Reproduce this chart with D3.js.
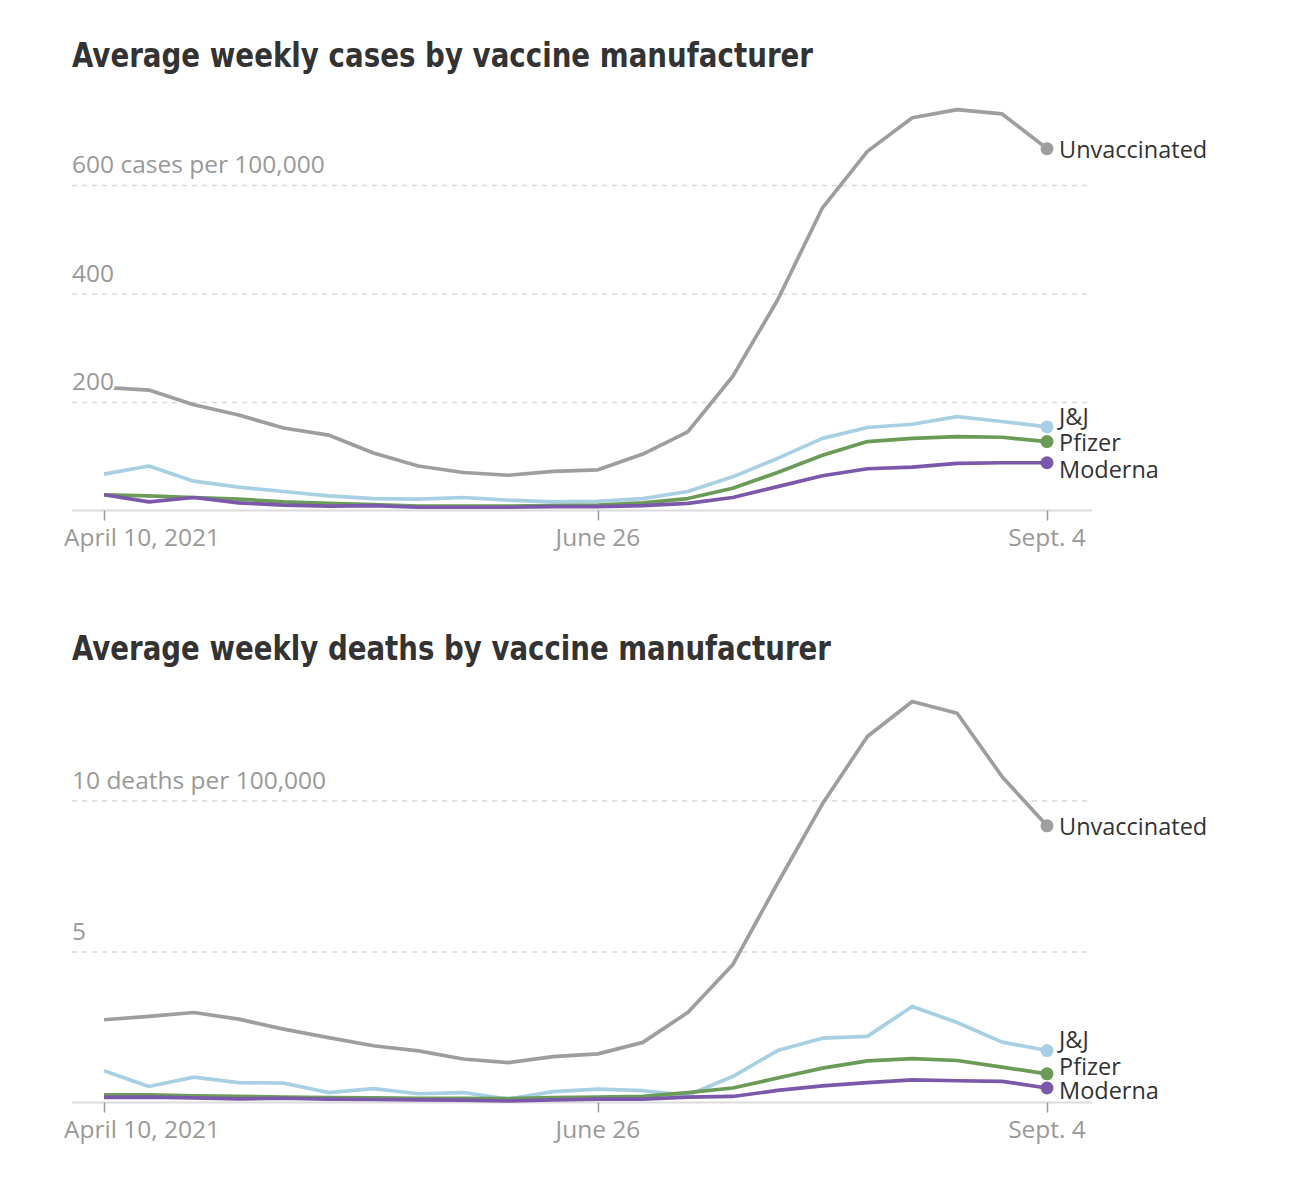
<!DOCTYPE html>
<html>
<head>
<meta charset="utf-8">
<script src="https://cdn.jsdelivr.net/npm/d3@7"></script>
<style>
  html, body { margin: 0; padding: 0; background: #fff; }
  svg { display: block; }
</style>
</head>
<body>
<svg id="chart" width="1303" height="1188"></svg>
<script>
// ---------- DATA ----------
const startDate = "2021-04-10";
const weeks = 22;
const seriesNames = ["Unvaccinated", "J&J", "Pfizer", "Moderna"];
const seriesColors = ["#9e9e9e", "#a8d0e4", "#6a9b57", "#7c58aa"];

const casesUnvaccinated = [227, 222, 195, 176, 152, 139, 106, 82, 70, 65, 72, 75, 104, 145, 247, 388, 558, 662, 724, 739, 731, 667];
const casesJJ          = [67, 82, 54, 43, 35, 27, 22, 21, 24, 19, 16, 17, 22, 35, 62, 96, 133, 153, 159, 173, 164, 154];
const casesPfizer      = [29, 27, 24, 21, 16, 13, 11, 8, 8, 8, 9, 10, 14, 22, 41, 70, 102, 127, 133, 136, 135, 127];
const casesModerna     = [29, 16, 24, 14, 10, 8, 9, 6, 6, 6, 7, 7, 9, 13, 24, 44, 64, 77, 80, 87, 88, 88];

const deathsUnvaccinated = [2.74, 2.85, 2.98, 2.76, 2.43, 2.15, 1.88, 1.71, 1.44, 1.32, 1.52, 1.61, 1.99, 2.98, 4.56, 7.26, 9.89, 12.12, 13.28, 12.89, 10.79, 9.16];
const deathsJJ          = [1.05, 0.53, 0.84, 0.66, 0.64, 0.33, 0.46, 0.29, 0.33, 0.11, 0.36, 0.44, 0.39, 0.24, 0.86, 1.72, 2.13, 2.19, 3.18, 2.65, 2.0, 1.72];
const deathsPfizer      = [0.25, 0.25, 0.22, 0.2, 0.18, 0.16, 0.15, 0.14, 0.14, 0.13, 0.16, 0.18, 0.2, 0.33, 0.48, 0.81, 1.14, 1.38, 1.45, 1.39, 1.17, 0.95];
const deathsModerna     = [0.17, 0.18, 0.15, 0.12, 0.14, 0.11, 0.1, 0.09, 0.08, 0.05, 0.09, 0.11, 0.11, 0.18, 0.2, 0.4, 0.55, 0.66, 0.75, 0.72, 0.7, 0.48];

const xTickDates = ["2021-04-10", "2021-06-26", "2021-09-04"];
const xTickLabels = ["April 10, 2021", "June 26", "Sept. 4"];

const casesTicks = [200, 400, 600];
const casesTickLabels = ["200", "400", "600 cases per 100,000"];
const deathsTicks = [5, 10];
const deathsTickLabels = ["5", "10 deaths per 100,000"];

const titles = ["Average weekly cases by vaccine manufacturer", "Average weekly deaths by vaccine manufacturer"];

// ---------- DRAW ----------
const parse = d3.timeParse("%Y-%m-%d");
const t0 = parse(startDate);
const dates = d3.range(weeks).map(i => d3.timeDay.offset(t0, i * 7));

const svg = d3.select("#chart");
const labelFont = "'Open Sans', 'Noto Sans', sans-serif";
const titleFont = "'Liberation Sans Narrow', 'DejaVu Sans', sans-serif";

const x = d3.scaleTime().domain([dates[0], dates[dates.length - 1]]).range([104, 1047]);

function panel(cfg) {
  const g = svg.append("g");
  const y = d3.scaleLinear().domain(cfg.domain).range(cfg.range);

  // title
  g.append("text")
    .attr("x", 72).attr("y", cfg.titleY)
    .attr("font-family", titleFont)
    .attr("font-weight", "bold")
    .attr("font-stretch", "condensed")
    .attr("font-size", 34)
    .attr("fill", "#333")
    .attr("textLength", cfg.titleLen)
    .attr("lengthAdjust", "spacingAndGlyphs")
    .text(cfg.title);

  // gridlines
  const yAxis = d3.axisLeft(y).tickValues(cfg.ticks).tickSize(-(1092 - 72)).tickFormat("");
  const ga = g.append("g").attr("transform", "translate(72,0)").call(yAxis);
  ga.select(".domain").remove();
  ga.selectAll(".tick line").attr("stroke", "#d9d9d9").attr("stroke-width", 1.3).attr("stroke-dasharray", "5,5");

  // baseline
  g.append("line")
    .attr("x1", 72).attr("x2", 1092)
    .attr("y1", y(0)).attr("y2", y(0))
    .attr("stroke", "#dcdcdc").attr("stroke-width", 2);

  // x axis ticks
  const xAxis = d3.axisBottom(x).tickValues(xTickDates.map(parse)).tickSize(10).tickFormat("");
  const gx = g.append("g").attr("transform", `translate(0,${y(0)})`).call(xAxis);
  gx.select(".domain").remove();
  gx.selectAll(".tick line").attr("stroke", "#999").attr("stroke-width", 1.5);

  xTickDates.forEach((d, i) => {
    const px = x(parse(d));
    g.append("text")
      .attr("x", i === 0 ? px - 40 : px)
      .attr("y", y(0) + 35)
      .attr("text-anchor", i === 0 ? "start" : "middle")
      .attr("font-family", labelFont)
      .attr("font-size", 24.5)
      .attr("fill", "#999")
      .text(xTickLabels[i]);
  });

  // lines
  const line = d3.line().x((d, i) => x(dates[i])).y(d => y(d));
  cfg.series.forEach((s, k) => {
    g.append("path")
      .datum(s)
      .attr("fill", "none")
      .attr("stroke", seriesColors[k])
      .attr("stroke-width", 3.7)
      .attr("stroke-linejoin", "round")
      .attr("d", line);
  });

  // y labels (on top, white halo)
  cfg.ticks.forEach((t, i) => {
    g.append("text")
      .attr("x", 72).attr("y", y(t) - 12)
      .attr("font-family", labelFont)
      .attr("font-size", 24.5)
      .attr("fill", "#999")
      .attr("stroke", "#fff").attr("stroke-width", 5)
      .attr("paint-order", "stroke")
      .text(cfg.tickLabels[i]);
  });

  // end dots + labels
  cfg.series.forEach((s, k) => {
    const last = s[s.length - 1];
    g.append("circle")
      .attr("cx", x(dates[dates.length - 1]))
      .attr("cy", y(last))
      .attr("r", 6.5)
      .attr("fill", seriesColors[k]);
    g.append("text")
      .attr("x", 1059)
      .attr("y", cfg.labelY[k])
      .attr("dy", "0.35em")
      .attr("font-family", labelFont)
      .attr("font-size", 23.5)
      .attr("fill", "#333")
      .text(seriesNames[k]);
  });
}

panel({
  title: titles[0], titleY: 67, titleLen: 741,
  domain: [0, 600], range: [510.5, 185],
  ticks: casesTicks, tickLabels: casesTickLabels,
  series: [casesUnvaccinated, casesJJ, casesPfizer, casesModerna],
  labelY: [150, 417, 443, 470]
});

panel({
  title: titles[1], titleY: 660, titleLen: 759,
  domain: [0, 10], range: [1102.5, 800.5],
  ticks: deathsTicks, tickLabels: deathsTickLabels,
  series: [deathsUnvaccinated, deathsJJ, deathsPfizer, deathsModerna],
  labelY: [827, 1040, 1067, 1091]
});
</script>
</body>
</html>
